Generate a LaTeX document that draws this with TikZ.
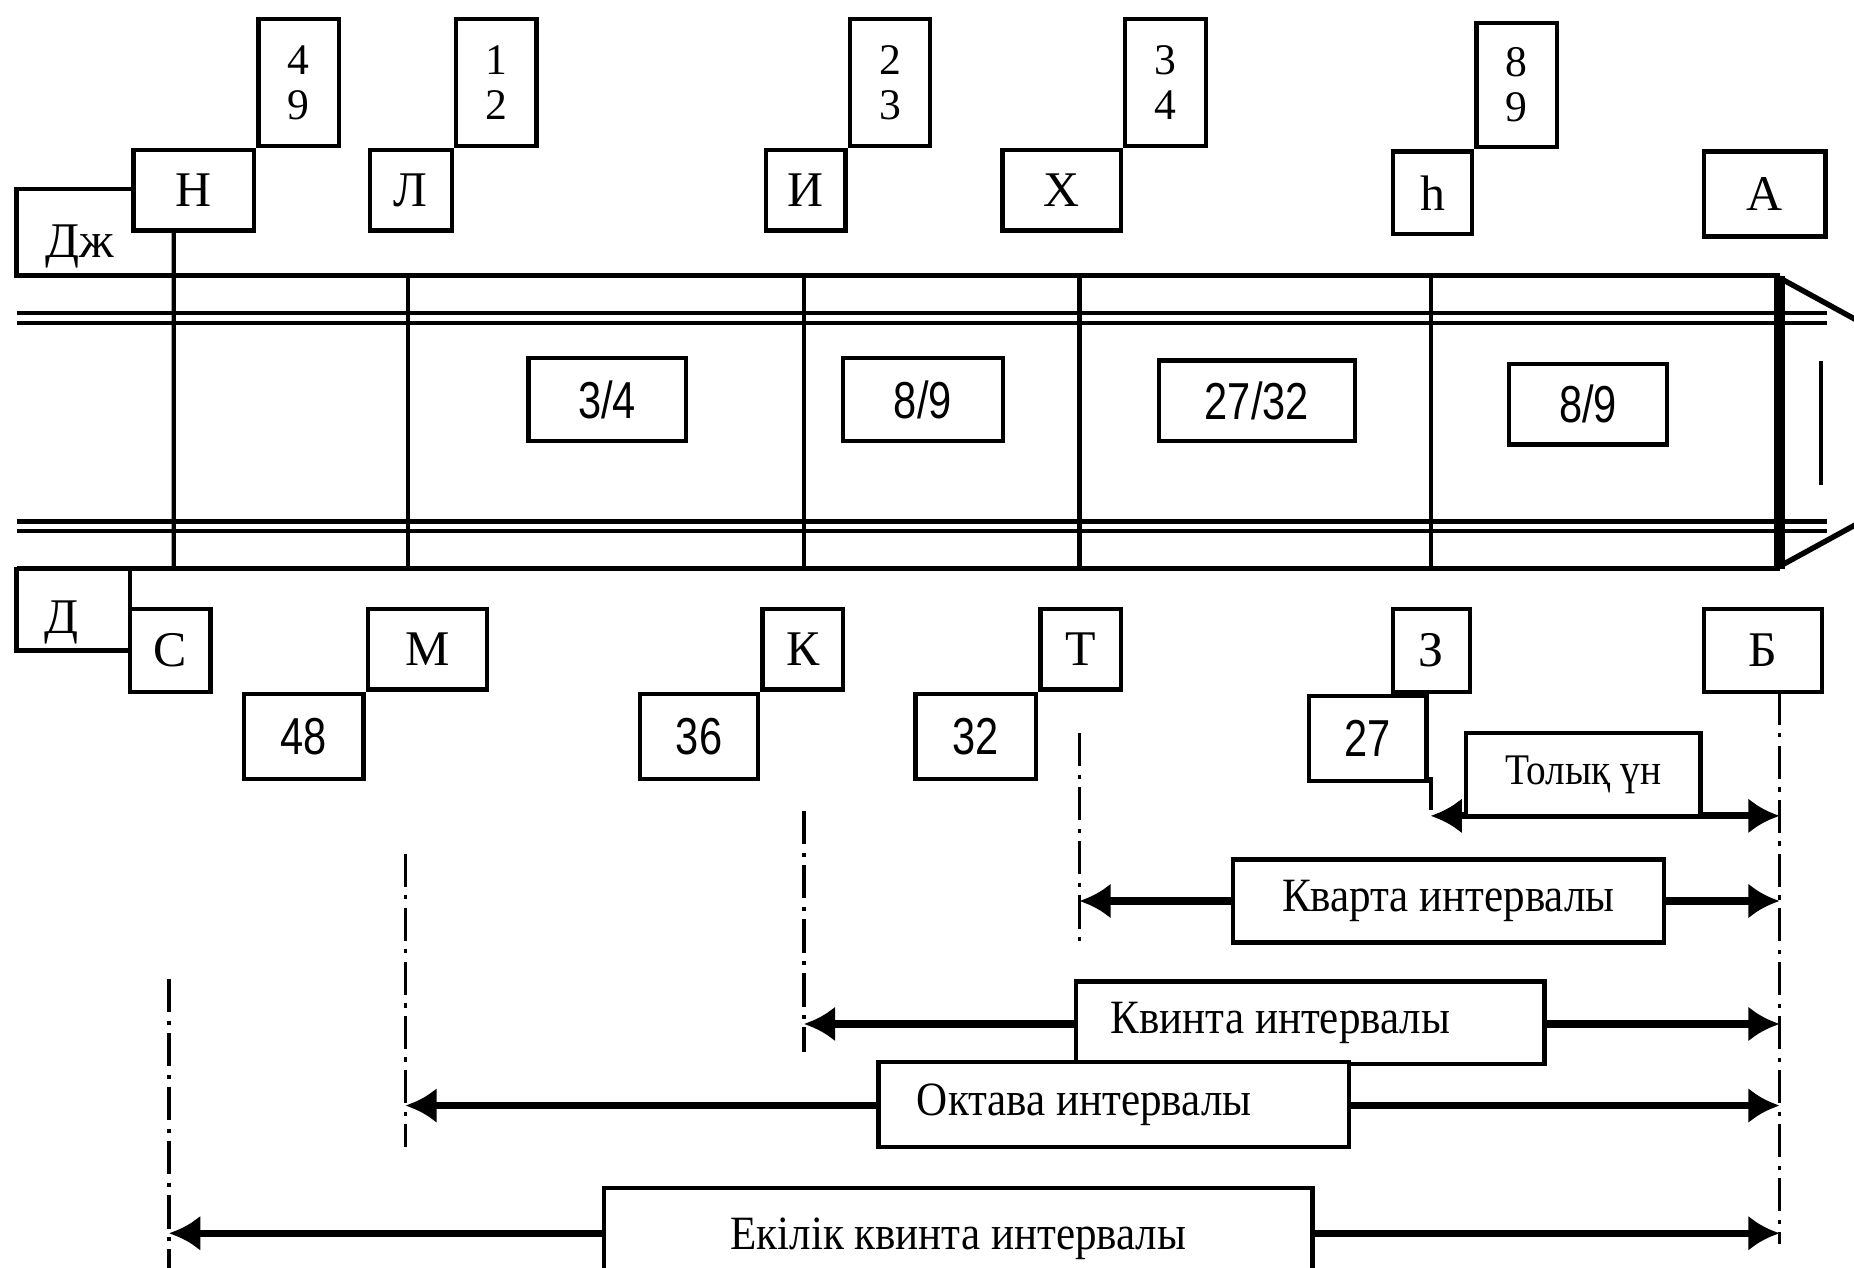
\documentclass[tikz,border=0pt]{standalone}
\usepackage{fontspec}
\setmainfont{Liberation Serif}
\newfontfamily\narrowsans[FakeStretch=0.8]{Liberation Sans}
\newfontfamily\narrowserif[FakeStretch=0.9]{Liberation Serif}
\usetikzlibrary{arrows.meta, positioning}

\begin{document}
\begin{tikzpicture}[x=0.01cm, y=-0.01cm,
	cell/.style={draw, line width=1.05pt, fill=white, inner sep=0pt, font=\fontsize{12}{13}\selectfont},
	numcell/.style={cell, align=center, minimum width=0.68cm, minimum height=1.07cm, font=\fontsize{10.5}{10.8}\selectfont},
	ratio/.style={cell, minimum height=0.70cm, font=\narrowsans\fontsize{12.5}{13}\selectfont},
	intcell/.style={cell, minimum height=0.70cm, font=\narrowserif\fontsize{11.5}{12}\selectfont},
	tube/.style={line width=1.3pt},
	rung/.style={line width=1pt},
	guide/.style={line width=0.9pt, dash pattern=on 8pt off 2pt on 1pt off 2pt},
	interval/.style={line width=1.7pt, {Latex[length=7.5pt,width=8.5pt]}-{Latex[length=7.5pt,width=8.5pt]}}]
	\useasboundingbox (0,0) rectangle (1568,1072);
	\clip (0,0) rectangle (1568,1072);

	\draw[tube] (14,233) -- (1505,233);
	\draw[tube] (14,481) -- (1505,481);
	\draw[rung] (14,265) -- (1545,265);
	\draw[rung] (14,273) -- (1545,273);
	\draw[rung] (14,441) -- (1545,441);
	\draw[rung] (14,449) -- (1545,449);
	\draw[line width=2.6pt] (1505,233) -- (1505,481);
	\draw[tube] (1505,235) -- (1600,287);
	\draw[tube] (1505,479) -- (1600,427);
	\draw[rung] (1540,305) -- (1540,410);

\node[cell, minimum width=1.33cm, minimum height=0.73cm, text height=0.42cm, text depth=0cm] (Dzh) at (80.5,196.5) {\hspace*{-0.26cm}Дж};
\node[cell, minimum width=1.02cm, minimum height=0.68cm] (N) at (164,161) {Н};
\node[numcell, anchor=south west] (N49) at (N.north east) {4\\9};
\node[cell, minimum width=0.69cm, minimum height=0.68cm] (L) at (347.5,161) {Л};
\node[numcell, anchor=south west] (L12) at (L.north east) {1\\2};
\node[cell, minimum width=0.67cm, minimum height=0.68cm] (I) at (681.5,161) {И};
\node[numcell, anchor=south west] (I23) at (I.north east) {2\\3};
\node[cell, minimum width=1.00cm, minimum height=0.68cm] (Kh) at (898,161) {Х};
\node[numcell, anchor=south west] (Kh34) at (Kh.north east) {3\\4};
\node[cell, minimum width=0.67cm, minimum height=0.70cm] (Hh) at (1211.5,163) {һ};
\node[numcell, anchor=south west, minimum height=1.05cm] (Hh89) at (Hh.north east) {8\\9};
\node[cell, minimum width=1.03cm, minimum height=0.72cm] (A) at (1492.5,164) {А};

	\draw[rung] ([xshift=-0.17cm]N.south) -- (147,481);
	\draw[rung] (345,233) -- (345,481);
	\draw[rung] (680,233) -- (680,481);
	\draw[rung] (913,233) -- (913,481);
	\draw[rung] (1210,233) -- (1210,481);

\node[ratio, minimum width=1.33cm] (r34) at (513.5,338) {3/4};
\node[ratio, minimum width=1.35cm] (r89) at (780.5,338) {8/9};
\node[ratio, minimum width=1.66cm, minimum height=0.68cm] (r2732) at (1063,339) {27/32};
\node[ratio, minimum width=1.34cm, minimum height=0.68cm] (r89b) at (1343,342) {8/9};

\node[cell, minimum width=0.96cm, minimum height=0.69cm, text height=0.40cm, text depth=0cm] (D) at (62,515.5) {\hspace*{-0.2cm}Д};
\node[cell, minimum width=0.68cm, minimum height=0.70cm] (S) at (144,550) {С};
\node[cell, minimum width=1.01cm, minimum height=0.68cm] (M) at (361.5,549) {М};
\node[ratio, anchor=north east, minimum width=1.01cm, minimum height=0.72cm] (M48) at (M.south west) {48};
\node[cell, minimum width=0.68cm, minimum height=0.68cm] (K) at (679,549) {К};
\node[ratio, anchor=north east, minimum width=1.00cm, minimum height=0.72cm] (K36) at (K.south west) {36};
\node[cell, minimum width=0.68cm, minimum height=0.68cm] (T) at (914,549) {Т};
\node[ratio, anchor=north east, minimum width=1.02cm, minimum height=0.72cm] (T32) at (T.south west) {32};
\node[cell, minimum width=0.65cm, minimum height=0.70cm] (Z) at (1210.5,550) {З};
\node[ratio, anchor=north east, minimum width=0.99cm, minimum height=0.72cm] (Z27) at ([xshift=0.32cm]Z.south west) {27};
\node[cell, minimum width=1.00cm, minimum height=0.70cm] (B) at (1491,550) {Б};

	\coordinate (gB) at (1505,585);
	\coordinate (gZ) at (1210,657);
	\coordinate (gT) at (913,620);
	\coordinate (gK) at (680,686);
	\coordinate (gM) at (343,722);
	\coordinate (gS) at (143,828);
	\draw[guide] (gB) -- (1505,1052);
	\draw[guide] (gZ) -- (1210,692);
	\draw[guide] (gT) -- (913,797);
	\draw[guide] (gK) -- (680,890);
	\draw[guide] (gM) -- (343,970);
	\draw[guide] (gS) -- (143,1080);

	\coordinate (eZ) at (1210,690);
	\coordinate (eT) at (913,762);
	\coordinate (eK) at (680,866);
	\coordinate (eM) at (343,935);
	\coordinate (eS) at (143,1043);
	\draw[interval] (eZ) -- (eZ -| gB);
	\draw[interval] (eT) -- (eT -| gB);
	\draw[interval] (eK) -- (eK -| gB);
	\draw[interval] (eM) -- (eM -| gB);
	\draw[interval] (eS) -- (eS -| gB);

\node[intcell, anchor=south, minimum width=1.98cm, font=\narrowserif\fontsize{10.5}{11}\selectfont] (tolyq) at (1339,692) {Толық үн};
\node[intcell, minimum width=3.64cm] (kvarta) at (1225,762) {Кварта интервалы};
\node[intcell, minimum width=3.96cm] (kvinta) at (1108,865) {\hspace*{-0.5cm}Квинта интервалы};
\node[intcell, minimum width=3.98cm, minimum height=0.72cm] (oktava) at (942,934) {\hspace*{-0.5cm}Октава интервалы};
\node[intcell, minimum width=5.99cm, minimum height=0.85cm] (ekilik) at (810.5,1047.5) {Екілік квинта интервалы};
\end{tikzpicture}
\end{document}
